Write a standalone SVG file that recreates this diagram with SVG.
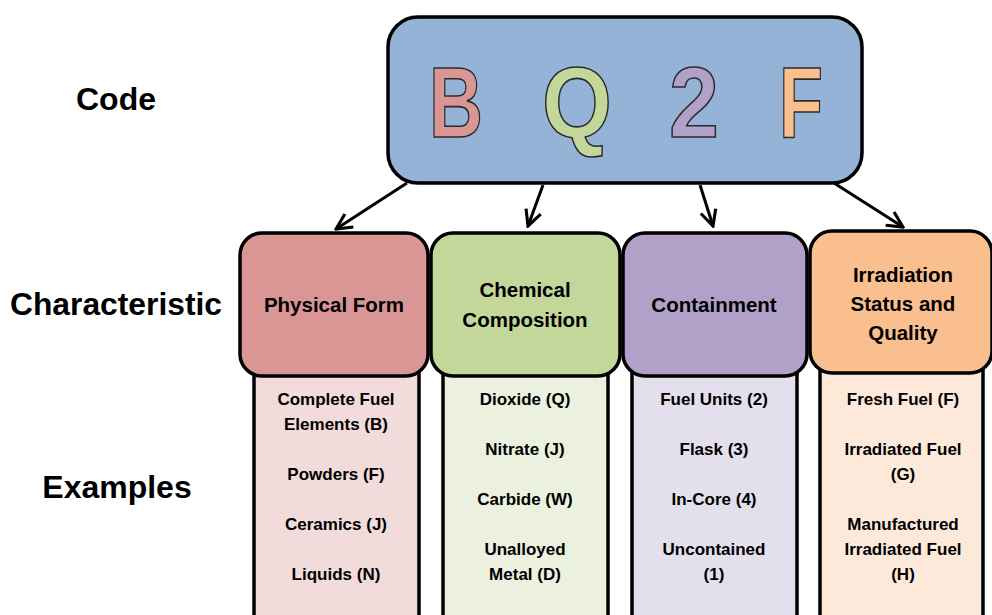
<svg xmlns="http://www.w3.org/2000/svg" width="992" height="615" viewBox="0 0 992 615">
<style>
.lbl{font-family:"Liberation Sans",Arial,sans-serif;font-weight:bold;fill:#000;text-anchor:middle}
.big{font-size:32px}
.hd{font-size:20.5px}
.ex{font-size:17px}
.code{font-family:"Liberation Sans",Arial,sans-serif;font-weight:bold;font-size:100px;stroke:#2b2b2b;stroke-width:1.6;text-anchor:middle}
.box{stroke:#000;stroke-width:3.5}
.conn{stroke:#000;stroke-width:3;fill:none}
</style>
<defs>
<marker id="ah" markerWidth="6.5" markerHeight="6.5" viewBox="0 0 10 10" refX="9" refY="5" orient="auto" markerUnits="strokeWidth">
<path d="M1,1 L9,5 L1,9" fill="none" stroke="#000" stroke-width="1.6"/>
</marker>
</defs>
<rect width="992" height="615" fill="#fff"/>

<g id="row-labels">
<text class="lbl big" x="116" y="110">Code</text>
<text class="lbl big" x="116" y="315" textLength="212" lengthAdjust="spacingAndGlyphs">Characteristic</text>
<text class="lbl big" x="117" y="498">Examples</text>
</g>

<g id="code">
<rect class="box" x="388" y="17" width="474" height="166" rx="30" fill="#95B3D7"/>
<text class="code" x="456" y="137" fill="#DA9694" textLength="54" lengthAdjust="spacingAndGlyphs">B</text>
<text class="code" x="577" y="137" fill="#C4D79B" textLength="70" lengthAdjust="spacingAndGlyphs">Q</text>
<text class="code" x="694" y="137" fill="#B1A0C7" textLength="50" lengthAdjust="spacingAndGlyphs">2</text>
<text class="code" x="801" y="137" fill="#FABF8F" textLength="44" lengthAdjust="spacingAndGlyphs">F</text>
</g>

<g id="connectors">
<line class="conn" x1="407" y1="183" x2="336" y2="229" marker-end="url(#ah)"/>
<line class="conn" x1="543" y1="185" x2="528" y2="226" marker-end="url(#ah)"/>
<line class="conn" x1="700" y1="185" x2="713" y2="226" marker-end="url(#ah)"/>
<line class="conn" x1="834" y1="183" x2="903" y2="227" marker-end="url(#ah)"/>
</g>

<g id="physical-form">
<rect class="box" x="254" y="360" width="165" height="270" fill="#F2DCDB"/>
<rect class="box" x="240" y="233" width="188" height="143" rx="22" fill="#DA9694"/>
<text class="lbl hd" x="334" y="312">Physical Form</text>
<text class="lbl ex" x="336" y="405">Complete Fuel</text>
<text class="lbl ex" x="336" y="430">Elements (B)</text>
<text class="lbl ex" x="336" y="480">Powders (F)</text>
<text class="lbl ex" x="336" y="530">Ceramics (J)</text>
<text class="lbl ex" x="336" y="580">Liquids (N)</text>
</g>

<g id="chemical-composition">
<rect class="box" x="443" y="360" width="165" height="270" fill="#EBF1DE"/>
<rect class="box" x="431" y="233" width="189" height="143" rx="22" fill="#C4D79B"/>
<text class="lbl hd" x="525" y="297">Chemical</text>
<text class="lbl hd" x="525" y="327">Composition</text>
<text class="lbl ex" x="525" y="405">Dioxide (Q)</text>
<text class="lbl ex" x="525" y="455">Nitrate (J)</text>
<text class="lbl ex" x="525" y="505">Carbide (W)</text>
<text class="lbl ex" x="525" y="555">Unalloyed</text>
<text class="lbl ex" x="525" y="580">Metal (D)</text>
</g>

<g id="containment">
<rect class="box" x="632" y="360" width="165" height="270" fill="#E4DFEC"/>
<rect class="box" x="623" y="233" width="184" height="143" rx="22" fill="#B1A0C7"/>
<text class="lbl hd" x="714" y="312">Containment</text>
<text class="lbl ex" x="714" y="405">Fuel Units (2)</text>
<text class="lbl ex" x="714" y="455">Flask (3)</text>
<text class="lbl ex" x="714" y="505">In-Core (4)</text>
<text class="lbl ex" x="714" y="555">Uncontained</text>
<text class="lbl ex" x="714" y="580">(1)</text>
</g>

<g id="irradiation-status">
<rect class="box" x="820" y="360" width="163" height="270" fill="#FDE9D9"/>
<rect class="box" x="810" y="231" width="182" height="142" rx="22" fill="#FABF8F"/>
<text class="lbl hd" x="903" y="282">Irradiation</text>
<text class="lbl hd" x="903" y="311">Status and</text>
<text class="lbl hd" x="903" y="340">Quality</text>
<text class="lbl ex" x="903" y="405">Fresh Fuel (F)</text>
<text class="lbl ex" x="903" y="455">Irradiated Fuel</text>
<text class="lbl ex" x="903" y="480">(G)</text>
<text class="lbl ex" x="903" y="530">Manufactured</text>
<text class="lbl ex" x="903" y="555">Irradiated Fuel</text>
<text class="lbl ex" x="903" y="580">(H)</text>
</g>
</svg>
